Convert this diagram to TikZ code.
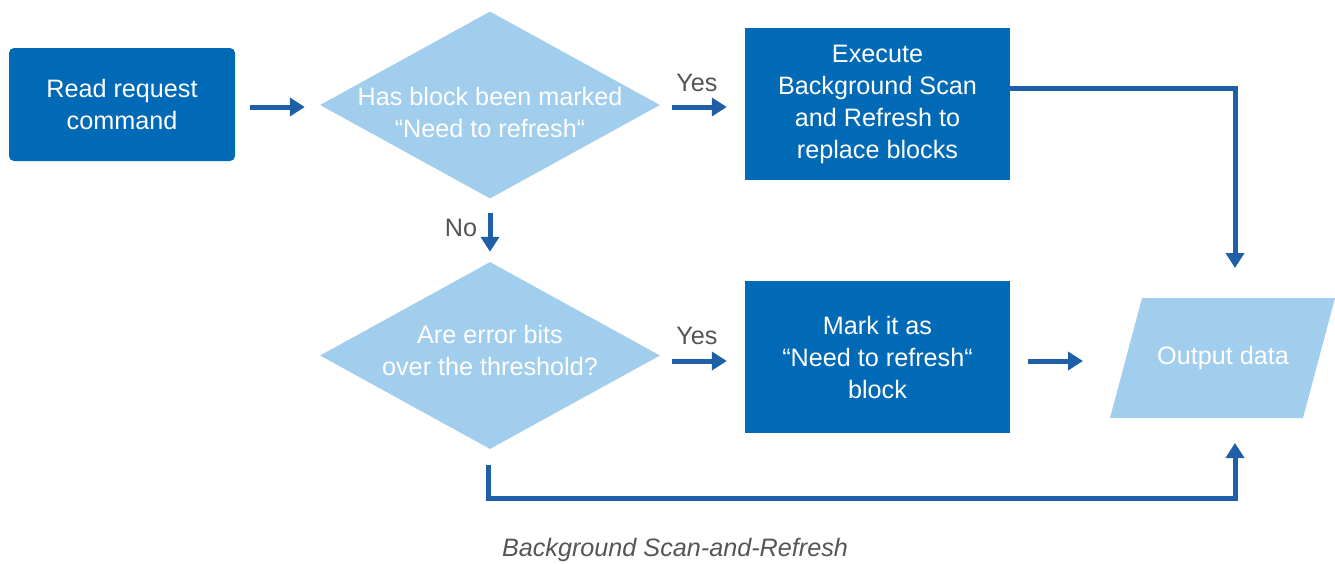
\documentclass[tikz,border=0pt]{standalone}
\usepackage{fontspec}
\setmainfont{Liberation Sans}
\usetikzlibrary{shapes.geometric,arrows.meta}
\definecolor{dblue}{HTML}{006AB6}
\definecolor{lblue}{HTML}{A2CEEE}
\definecolor{ablue}{HTML}{1E5FA8}
\definecolor{tgray}{HTML}{555555}
\begin{document}
\begin{tikzpicture}[x=1pt,y=-1pt,
  txt/.style={font=\fontsize{25.2}{32}\selectfont, align=center},
  box/.style={txt, fill=dblue, text=white, minimum width=265pt, minimum height=152pt, inner sep=0pt},
  dia/.style={diamond, fill=lblue, minimum width=340pt, minimum height=187pt, inner sep=0pt},
  wtxt/.style={txt, text=white},
  lbl/.style={txt, text=tgray},
  arr/.style={draw=ablue, line width=5pt, -{Triangle[length=15pt,width=18pt]}},
]
\useasboundingbox (0,0) rectangle (1335,563);
% nodes
\node[box, rounded corners=5pt, minimum width=226pt, minimum height=113pt] (read) at (122,104.5) {Read request\\command};
\node[dia] (d1) at (490,105) {};
\node[wtxt] (d1t) at (490,112) {Has block been marked\\“Need to refresh“};
\node[box] (exec) at (877.5,104) {Execute\\Background Scan\\and Refresh to\\replace blocks};
\node[dia] (d2) at (490,355.5) {};
\node[wtxt] (d2t) at (490,350) {Are error bits\\over the threshold?};
\node[box] (mark) at (877.5,357) {Mark it as\\“Need to refresh“\\block};
\fill[lblue] (1142,298) -- (1335,298) -- (1303,418) -- (1110,418) -- cycle;
\node[wtxt] (out) at (1223,358) {Output data};
% labels
\node[lbl] (yes1) at (697,83) {Yes};
\node[lbl] (no1) at (461,228) {No};
\node[lbl] (yes2) at (697,336) {Yes};
\node[lbl, font=\fontsize{25.2}{32}\selectfont\itshape] (cap) at (675,550) {Background Scan-and-Refresh};
% connectors
\coordinate (t1) at (1235,268);
\coordinate (t2) at (1083,361);
\coordinate (t3) at (1235,443);
\draw[arr] ([xshift=15pt,yshift=-2.5pt]read.east) -- ([xshift=-15pt,yshift=-2pt]d1.west);
\draw[arr] ([xshift=12pt,yshift=-2pt]d1.east) -- ([xshift=-18pt,yshift=-3pt]exec.west);
\draw[arr] ([yshift=-14pt]d1.south) -- ([yshift=10pt]d2.north);
\draw[arr] ([xshift=12pt,yshift=-5.5pt]d2.east) -- ([xshift=-18pt,yshift=-4pt]mark.west);
\draw[arr] ([xshift=18pt,yshift=-4pt]mark.east) -- (t2);
\draw[arr] ([yshift=16pt]exec.east) -| (t1);
\draw[arr] ([xshift=-1.5pt,yshift=-16pt]d2.south) |- (1235,498.5) -- (t3);
\end{tikzpicture}
\end{document}
